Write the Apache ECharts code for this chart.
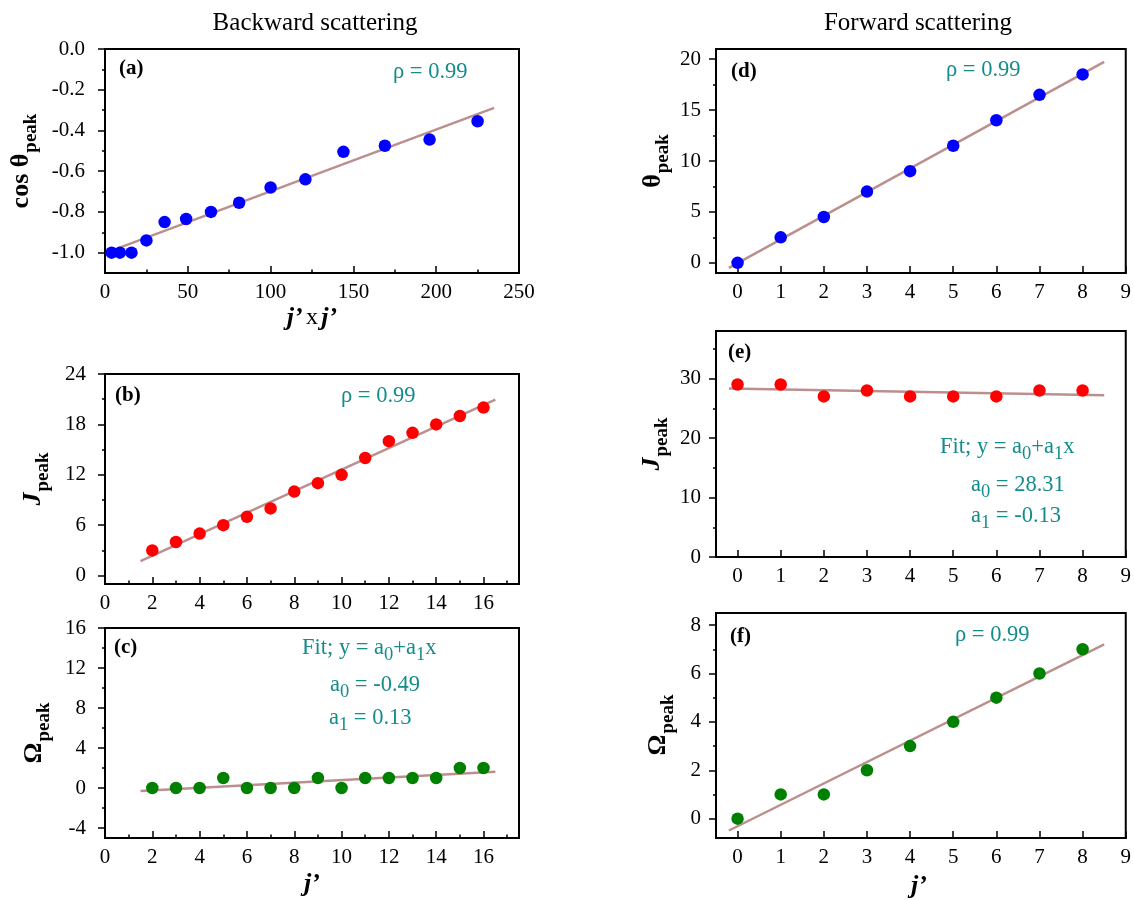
<!DOCTYPE html>
<html><head><meta charset="utf-8">
<script src="https://cdn.jsdelivr.net/npm/echarts@6/dist/echarts.min.js"></script>
<style>html,body{margin:0;padding:0;background:#fff}#c{width:1134px;height:900px}</style>
</head><body><div id="c"></div>
<script>
// ---------------- data ----------------
const jSqBack = [4, 9, 16, 25, 36, 49, 64, 81, 100, 121, 144, 169, 196, 225];
const cosThetaPeakBack = [-1.0, -1.0, -1.0, -0.94, -0.85, -0.835, -0.80, -0.755, -0.68, -0.64, -0.505, -0.475, -0.445, -0.355];
const jBack = [2, 3, 4, 5, 6, 7, 8, 9, 10, 11, 12, 13, 14, 15, 16];
const JPeakBack = [3, 4, 5, 6, 7, 8, 10, 11, 12, 14, 16, 17, 18, 19, 20];
const OmegaPeakBack = [0, 0, 0, 1, 0, 0, 0, 1, 0, 1, 1, 1, 1, 2, 2];
const jFwd = [0, 1, 2, 3, 4, 5, 6, 7, 8];
const thetaPeakFwd = [0, 2.5, 4.5, 7, 9, 11.5, 14, 16.5, 18.5];
const JPeakFwd = [29, 29, 27, 28, 27, 27, 27, 28, 28];
const OmegaPeakFwd = [0, 1, 1, 2, 3, 4, 5, 6, 7];

// fitted lines: endpoints
const fitA = [[8, -0.978], [235, -0.289]];
const fitB = [[1.5, 1.72], [16.5, 20.95]];
const fitC = [[1.5, -0.298], [16.5, 1.631]];
const fitD = [[-0.2, -0.49], [8.5, 19.74]];
const fitE = [[-0.2, 28.34], [8.5, 27.21]];
const fitF = [[-0.2, -0.49], [8.5, 7.2]];

// tick values / labels
const xTicksA = [0, 50, 100, 150, 200, 250];
const xMinorA = [25, 75, 125, 175, 225];
const yTicksA = [-1.0, -0.8, -0.6, -0.4, -0.2, 0.0];
const yMinorA = [-0.9, -0.7, -0.5, -0.3, -0.1];
const xTicksBC = [0, 2, 4, 6, 8, 10, 12, 14, 16];
const xMinorBC = [1, 3, 5, 7, 9, 11, 13, 15, 17];
const yTicksB = [0, 6, 12, 18, 24];
const yMinorB = [3, 9, 15, 21];
const yTicksC = [-4, 0, 4, 8, 12, 16];
const yMinorC = [-2, 2, 6, 10, 14];
const xTicksDEF = [0, 1, 2, 3, 4, 5, 6, 7, 8, 9];
const yTicksD = [0, 5, 10, 15, 20];
const yMinorD = [2.5, 7.5, 12.5, 17.5];
const yTicksE = [0, 10, 20, 30];
const yMinorE = [5, 15, 25, 35];
const yTicksF = [0, 2, 4, 6, 8];
const yMinorF = [1, 3, 5, 7];

// ---------------- styling ----------------
const FONT = 'Liberation Serif';
const TEAL = '#148c8c';
const FITC = '#bc8f8f';

const panels = [
  {grid:{left:105,top:49,width:414,height:224}, x:{min:0,max:250,ticks:xTicksA,minor:xMinorA}, y:{min:-1.1,max:0,ticks:yTicksA,minor:yMinorA,fmt:v=>v.toFixed(1)}, lm:20, xs:jSqBack, ys:cosThetaPeakBack, color:'#0000ff', fit:fitA},
  {grid:{left:105,top:374,width:414,height:210}, x:{min:0,max:17.5,ticks:xTicksBC,minor:xMinorBC}, y:{min:-1,max:24,ticks:yTicksB,minor:yMinorB}, lm:19, xs:jBack, ys:JPeakBack, color:'#ff0000', fit:fitB},
  {grid:{left:105,top:628,width:414,height:210}, x:{min:0,max:17.5,ticks:xTicksBC,minor:xMinorBC}, y:{min:-5,max:16,ticks:yTicksC,minor:yMinorC}, lm:19, xs:jBack, ys:OmegaPeakBack, color:'#008000', fit:fitC},
  {grid:{left:716,top:49,width:411,height:224}, x:{min:-0.5,max:9,ticks:xTicksDEF,minor:[]}, y:{min:-1,max:21,ticks:yTicksD,minor:yMinorD}, lm:15, xs:jFwd, ys:thetaPeakFwd, color:'#0000ff', fit:fitD},
  {grid:{left:716,top:331,width:411,height:226}, x:{min:-0.5,max:9,ticks:xTicksDEF,minor:[]}, y:{min:0,max:38,ticks:yTicksE,minor:yMinorE}, lm:15, xs:jFwd, ys:JPeakFwd, color:'#ff0000', fit:fitE},
  {grid:{left:716,top:613,width:411,height:225}, x:{min:-0.5,max:9,ticks:xTicksDEF,minor:[]}, y:{min:-0.8,max:8.5,ticks:yTicksF,minor:yMinorF}, lm:15, xs:jFwd, ys:OmegaPeakFwd, color:'#008000', fit:fitF}
];

const grids = [], xAxes = [], yAxes = [], series = [];
const labelStyle = {fontFamily: FONT, fontSize: 21, color: '#000'};
panels.forEach((p, i) => {
  grids.push(Object.assign({show:true, borderColor:'#000', borderWidth:2, backgroundColor:'#fff'}, p.grid));
  xAxes.push({gridIndex:i, type:'value', position:'bottom', min:p.x.min, max:p.x.max,
    axisLine:{show:true, onZero:false, lineStyle:{color:'#000', width:2}},
    axisTick:{show:true, inside:true, length:7, customValues:p.x.ticks, lineStyle:{color:'#000', width:1.5}},
    axisLabel:Object.assign({show:true, margin:9, customValues:p.x.ticks, formatter:v=>String(v)}, labelStyle),
    splitLine:{show:false}});
  xAxes.push({gridIndex:i, type:'value', position:'bottom', min:p.x.min, max:p.x.max,
    axisLine:{show:false, onZero:false},
    axisTick:{show:p.x.minor.length>0, inside:true, length:3.5, customValues:p.x.minor.length?p.x.minor:[p.x.min], lineStyle:{color:'#000', width:1.5}},
    axisLabel:{show:false}, splitLine:{show:false}});
  yAxes.push({gridIndex:i, type:'value', position:'left', min:p.y.min, max:p.y.max,
    axisLine:{show:true, onZero:false, lineStyle:{color:'#000', width:2}},
    axisTick:{show:true, inside:false, length:7, customValues:p.y.ticks, lineStyle:{color:'#000', width:1.5}},
    axisLabel:Object.assign({show:true, margin:p.lm, customValues:p.y.ticks, formatter:p.y.fmt || (v=>String(v))}, labelStyle),
    splitLine:{show:false}});
  yAxes.push({gridIndex:i, type:'value', position:'left', min:p.y.min, max:p.y.max,
    axisLine:{show:false, onZero:false},
    axisTick:{show:true, inside:false, length:3, customValues:p.y.minor, lineStyle:{color:'#000', width:1.5}},
    axisLabel:{show:false}, splitLine:{show:false}});
  series.push({type:'line', xAxisIndex:2*i, yAxisIndex:2*i, data:p.fit, symbol:'none', silent:true,
    lineStyle:{color:FITC, width:2.5}, z:2});
  series.push({type:'scatter', xAxisIndex:2*i, yAxisIndex:2*i, data:p.xs.map((x,k)=>[x, p.ys[k]]),
    symbol:'circle', symbolSize:12.5, itemStyle:{color:p.color, opacity:1}, z:3});
});

// ---------------- texts ----------------
const richAxis = {
  m:{fontFamily:FONT, fontSize:26, fontWeight:'bold', fill:'#000'},
  mi:{fontFamily:FONT, fontSize:26, fontWeight:'bold', fontStyle:'italic', fill:'#000'},
  s:{fontFamily:FONT, fontSize:19, fontWeight:'bold', fill:'#000', padding:[20,0,0,1]},
  n:{fontFamily:FONT, fontSize:24, fill:'#000'}
};
const richNote = {
  t:{fontFamily:FONT, fontSize:22.5, fill:TEAL},
  s:{fontFamily:FONT, fontSize:18.5, fill:TEAL, padding:[14,0,0,0]}
};
function txt(x, y, text, rich, opts) {
  return Object.assign({type:'text', x:x, y:y, z:100,
    style:{text:text, rich:rich, align:(opts&&opts.align)||'left', verticalAlign:'middle'}},
    opts && opts.rot ? {rotation:Math.PI/2} : {});
}
const tag = {b:{fontFamily:FONT, fontSize:21, fontWeight:'bold', fill:'#000'}};
const ttl = {t:{fontFamily:FONT, fontSize:25, fill:'#000'}};
const graphics = [
  txt(315, 23, '{t|Backward scattering}', ttl, {align:'center'}),
  txt(918, 23, '{t|Forward scattering}', ttl, {align:'center'}),
  // panel tags
  txt(119, 69, '{b|(a)}', tag), txt(115, 396, '{b|(b)}', tag), txt(114, 648, '{b|(c)}', tag),
  txt(731, 72, '{b|(d)}', tag), txt(728, 353, '{b|(e)}', tag), txt(730, 637, '{b|(f)}', tag),
  // correlation notes
  txt(393, 72, '{t|ρ = 0.99}', richNote), txt(341, 396, '{t|ρ = 0.99}', richNote),
  txt(946, 70, '{t|ρ = 0.99}', richNote), txt(955, 635, '{t|ρ = 0.99}', richNote),
  // fit notes
  txt(302, 648, '{t|Fit; y = a}{s|0}{t|+a}{s|1}{t|x}', richNote),
  txt(330, 685, '{t|a}{s|0}{t| = -0.49}', richNote),
  txt(329, 718, '{t|a}{s|1}{t| = 0.13}', richNote),
  txt(940, 447, '{t|Fit; y = a}{s|0}{t|+a}{s|1}{t|x}', richNote),
  txt(971, 485, '{t|a}{s|0}{t| = 28.31}', richNote),
  txt(971, 516, '{t|a}{s|1}{t| = -0.13}', richNote),
  // axis names
  txt(21, 161, '{m|cos θ}{s|peak}', richAxis, {align:'center', rot:true}),
  txt(33, 479, '{mi|J}{s|peak}', richAxis, {align:'center', rot:true}),
  txt(34, 733, '{m|Ω}{s|peak}', richAxis, {align:'center', rot:true}),
  txt(653, 161, '{m|θ}{s|peak}', richAxis, {align:'center', rot:true}),
  txt(652, 444, '{mi|J}{s|peak}', richAxis, {align:'center', rot:true}),
  txt(658, 725, '{m|Ω}{s|peak}', richAxis, {align:'center', rot:true}),
  txt(312, 318, '{mi|j’} {n|x} {mi|j’}', richAxis, {align:'center'}),
  txt(312, 884, '{mi|j’}', richAxis, {align:'center'}),
  txt(919, 886, '{mi|j’}', richAxis, {align:'center'})
];

const chart = echarts.init(document.getElementById('c'), null, {renderer:'canvas'});
chart.setOption({
  animation:false,
  backgroundColor:'#fff',
  grid:grids, xAxis:xAxes, yAxis:yAxes, series:series,
  graphic:graphics
});
</script>
</body></html>
